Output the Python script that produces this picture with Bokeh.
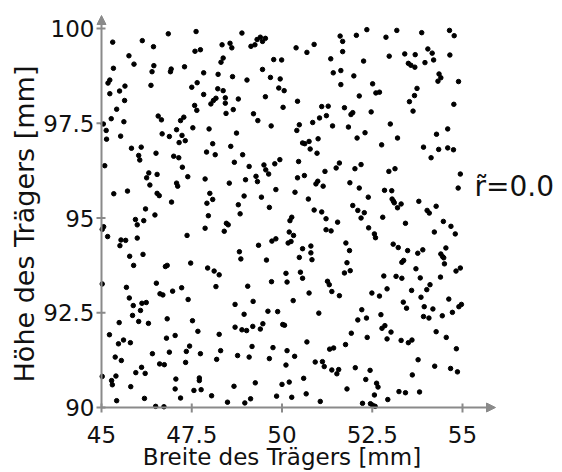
import math
from bokeh.plotting import figure
from bokeh.models import Range1d, Label, Arrow, NormalHead
from bokeh.core.properties import value
from bokeh.embed import file_html
from bokeh.resources import INLINE

# ---- axis ticks / texts ----
x_ticks = [45, 47.5, 50, 52.5, 55]
x_tick_labels = ["45", "47.5", "50", "52.5", "55"]
y_ticks = [90, 92.5, 95, 97.5, 100]
y_tick_labels = ["90", "92.5", "95", "97.5", "100"]
x_title = "Breite des Trägers [mm]"
y_title = "Höhe des Trägers [mm]"
r_text = "r\u0303=0.0"

# ---- measured points (Breite [mm], Höhe [mm]) by region ----
oben_links = [(46.85,99.86),(47.62,99.92),(45.31,99.64),(46.13,99.68),(46.44,99.52),(47.59,99.40),(47.74,99.44),(45.76,99.28),(45.90,99.06),(46.45,99.02),(46.40,98.86),(46.93,98.93),(46.91,98.86),(47.30,98.99),(45.33,98.95),(45.23,98.64),(45.18,98.56),(45.65,98.48),(46.37,98.50),(45.50,98.35),(45.23,98.28),(45.64,98.10),(45.42,97.87),(47.65,98.57),(47.50,98.45),(47.58,97.97),(47.64,97.84),(45.27,97.62),(45.62,97.54),(46.57,97.69),(46.66,97.59),(47.28,97.66),(47.19,97.57),(45.05,97.48),(45.13,97.31),(45.14,97.08),(45.53,97.16),(46.68,97.22),(46.88,97.15),(47.08,97.33),(47.23,97.18),(47.53,97.38),(47.15,96.99),(47.32,97.04),(45.83,96.84),(46.10,96.87)]
oben_mitte = [(48.89,99.88),(48.34,99.57),(48.56,99.61),(48.61,99.49),(49.14,99.53),(49.25,99.57),(49.31,99.71),(49.40,99.77),(49.46,99.66),(49.54,99.74),(50.39,99.49),(50.69,99.37),(50.89,99.58),(51.35,99.20),(48.37,99.22),(48.31,99.11),(49.77,99.18),(49.99,99.17),(47.83,98.83),(48.23,98.79),(48.63,98.73),(49.03,98.64),(49.46,98.92),(49.68,98.71),(49.95,98.67),(51.42,98.83),(47.83,98.26),(48.22,98.41),(48.37,98.36),(48.03,98.01),(48.10,98.10),(48.17,98.16),(48.43,98.17),(48.43,98.03),(48.79,98.14),(49.91,98.43),(50.06,98.36),(49.54,98.20),(50.43,98.08),(50.03,97.92),(48.45,97.76),(48.65,97.86),(49.21,97.75),(49.33,97.57),(49.70,97.43),(51.10,97.94),(51.28,97.95),(51.04,97.64),(51.23,97.70),(50.85,97.52),(51.40,97.43),(50.48,97.46),(50.41,97.31),(47.98,97.35),(48.74,97.24),(48.08,96.96),(48.58,96.89),(50.57,96.98),(50.63,96.96),(50.75,97.02),(51.00,97.09),(50.78,96.82)]
oben_rechts = [(52.35,99.97),(51.61,99.80),(51.68,99.66),(52.06,99.82),(52.88,99.77),(53.18,99.95),(53.87,99.89),(54.64,99.95),(54.77,99.81),(51.68,99.39),(52.26,99.14),(52.97,99.27),(53.40,99.33),(53.69,99.31),(54.04,99.46),(54.16,99.35),(54.20,99.17),(53.96,99.10),(54.65,99.30),(53.50,99.08),(53.57,99.03),(53.68,98.98),(51.63,98.89),(51.99,98.75),(51.63,98.52),(52.51,98.54),(52.60,98.30),(52.70,98.32),(52.14,98.22),(54.35,98.80),(54.40,98.70),(54.32,98.61),(54.89,98.60),(53.74,98.42),(53.67,98.23),(53.53,98.07),(53.63,97.82),(54.76,98.00),(51.73,97.91),(51.91,97.73),(51.96,97.78),(52.47,97.80),(51.84,97.40),(53.00,97.48),(52.30,97.25),(52.08,97.11),(53.20,97.11),(52.76,96.93),(54.28,97.21),(54.59,97.35),(53.92,96.87),(54.34,96.81),(54.59,96.85),(54.75,96.80)]
mitte_links = [(46.03,96.65),(46.06,96.53),(46.51,96.71),(47.00,96.63),(47.14,96.59),(45.09,96.38),(47.24,96.34),(46.31,96.19),(46.25,96.06),(46.54,96.15),(47.39,96.09),(46.34,95.87),(47.08,95.92),(47.11,95.84),(45.34,95.64),(45.72,95.71),(46.54,95.65),(46.60,95.59),(46.94,95.42),(46.22,95.24),(46.48,95.08),(45.94,94.96),(46.17,94.93),(45.99,94.82),(45.06,94.77),(45.02,94.70),(45.17,94.51),(45.54,94.42),(45.67,94.41),(45.99,94.47),(45.51,94.27),(47.37,94.54),(45.78,93.99),(46.15,94.04),(45.89,93.75),(46.77,93.72),(46.82,93.75),(47.47,93.81)]
mitte = [(47.91,96.74),(48.15,96.67),(48.91,96.67),(48.68,96.47),(49.09,96.36),(49.50,96.40),(49.55,96.27),(49.63,96.16),(49.80,96.43),(49.94,96.54),(50.46,96.49),(50.97,96.71),(51.19,96.23),(47.87,96.03),(48.54,95.92),(48.99,96.01),(49.28,96.10),(49.32,95.96),(50.43,96.06),(50.62,96.12),(50.94,95.90),(50.99,95.97),(51.14,95.84),(49.83,95.75),(50.36,95.68),(48.00,95.65),(48.08,95.49),(47.92,95.39),(48.95,95.58),(49.43,95.55),(48.79,95.35),(49.65,95.28),(50.73,95.50),(48.84,95.11),(47.96,95.06),(50.89,95.21),(51.10,95.16),(51.22,94.98),(50.27,95.02),(50.22,94.93),(48.46,94.86),(48.51,94.82),(47.87,94.73),(48.40,94.65),(51.22,94.69),(51.36,94.66),(50.20,94.63),(50.32,94.54),(49.83,94.45),(49.72,94.39),(50.17,94.34),(50.25,94.38),(49.35,94.28),(50.57,94.19),(50.80,94.26),(50.80,94.08),(48.82,94.11),(48.86,93.92),(49.57,93.89),(50.48,93.96),(50.83,93.90),(47.94,93.68),(48.12,93.60),(48.26,93.50),(50.11,93.54),(50.51,93.57),(50.57,93.41)]
mitte_rechts = [(54.13,96.59),(51.59,96.45),(51.50,96.32),(52.02,96.30),(52.19,96.41),(52.96,96.23),(53.13,96.30),(54.94,96.16),(54.88,95.79),(51.88,95.93),(52.14,95.79),(52.84,95.73),(53.04,95.72),(52.39,95.55),(53.05,95.50),(53.09,95.44),(53.11,95.40),(53.30,95.37),(53.20,95.27),(53.79,95.44),(54.02,95.20),(54.08,95.13),(54.27,95.31),(51.96,95.33),(52.10,95.20),(52.28,95.14),(52.19,95.00),(52.79,95.02),(51.54,94.89),(53.42,94.86),(54.47,94.91),(54.68,94.78),(54.22,94.63),(54.80,94.58),(52.40,94.74),(52.56,94.58),(52.59,94.48),(51.77,94.34),(51.87,94.14),(53.08,94.31),(53.22,94.22),(53.48,94.14),(53.76,94.07),(53.90,94.16),(54.54,94.21),(54.40,94.05),(54.45,93.98),(54.48,93.95),(53.37,93.88),(53.32,93.83),(51.80,93.82),(54.50,93.79),(51.73,93.55),(51.89,93.61),(53.71,93.66),(54.82,93.60),(54.94,93.68),(52.82,93.47),(53.16,93.46),(53.32,93.41),(53.83,93.42),(54.39,93.44)]
unten_links = [(45.02,93.26),(45.69,93.17),(45.77,92.89),(45.88,92.69),(45.86,92.43),(46.08,92.56),(46.12,92.75),(46.24,92.77),(46.03,92.27),(46.30,92.22),(46.52,93.28),(46.62,93.00),(46.70,92.97),(46.97,93.07),(47.22,93.16),(47.40,92.85),(46.82,92.34),(47.52,92.29),(47.67,92.01),(45.49,92.24),(45.22,91.92),(45.47,91.68),(45.61,91.78),(45.80,91.71),(46.80,91.83),(47.04,91.90),(47.44,91.62),(47.74,91.42),(45.38,91.33),(45.55,91.24),(46.41,91.42),(46.88,91.46),(47.35,91.48),(47.33,91.19),(46.61,91.15),(46.74,91.13),(46.11,91.06),(46.21,90.90),(45.95,90.92),(45.02,90.82),(45.28,90.71),(45.30,90.60),(45.40,90.83),(45.81,90.55),(47.06,90.75),(47.04,90.49),(47.71,90.78),(47.71,90.71),(47.56,90.45),(47.76,90.47),(47.19,90.25),(45.42,90.18),(46.19,90.24),(46.50,90.03),(46.73,90.02)]
unten_mitte = [(48.17,93.19),(49.05,93.20),(49.71,93.32),(50.14,93.31),(51.26,93.33),(51.31,93.24),(51.38,93.06),(50.75,93.02),(48.70,92.72),(49.20,92.80),(50.31,92.82),(48.95,92.46),(49.61,92.54),(49.88,92.53),(51.02,92.49),(48.70,92.12),(48.89,92.05),(49.02,92.03),(49.19,92.14),(49.40,92.07),(49.47,92.21),(50.02,92.19),(50.07,92.17),(48.26,91.93),(50.69,91.73),(49.17,91.61),(49.75,91.58),(50.14,91.50),(51.32,91.54),(51.43,91.57),(48.30,91.50),(48.19,91.27),(48.77,91.37),(49.09,91.33),(49.65,91.29),(50.35,91.35),(50.11,91.12),(50.92,91.20),(51.12,91.21),(51.17,91.08),(51.38,90.99),(50.60,90.77),(49.26,90.65),(48.67,90.56),(50.00,90.61),(50.20,90.67),(48.05,90.31),(49.85,90.30),(50.27,90.27),(50.67,90.36),(48.49,90.14),(48.97,90.12),(49.13,90.23),(51.06,90.16)]
unten_rechts = [(51.59,92.95),(52.49,93.02),(52.70,92.94),(52.91,93.13),(53.59,93.09),(53.85,92.91),(54.01,93.11),(54.10,93.24),(54.62,92.86),(53.36,92.78),(53.45,92.62),(53.94,92.66),(54.18,92.60),(54.90,92.66),(54.97,92.72),(52.21,92.58),(52.10,92.31),(52.34,92.36),(52.74,92.45),(53.92,92.40),(54.07,92.36),(54.44,92.42),(54.72,92.51),(52.85,92.16),(52.77,92.09),(53.02,91.99),(51.92,91.96),(52.36,91.85),(52.91,91.81),(53.30,91.77),(53.50,91.71),(53.60,91.78),(54.27,92.00),(54.55,91.85),(51.76,91.66),(54.83,91.55),(53.77,91.26),(52.03,91.05),(51.57,91.00),(51.52,90.89),(52.44,90.98),(52.32,90.74),(54.23,91.09),(54.67,91.03),(54.86,90.94),(53.61,90.86),(51.80,90.49),(52.62,90.64),(52.66,90.54),(53.24,90.42),(53.42,90.39),(53.81,90.41),(52.56,90.33),(52.93,90.21),(52.23,90.11),(52.45,90.10),(52.51,90.06),(52.58,90.03)]

punkte = (oben_links + oben_mitte + oben_rechts + mitte_links + mitte +
          mitte_rechts + unten_links + unten_mitte + unten_rechts)
breite = [pt[0] for pt in punkte]
hoehe = [pt[1] for pt in punkte]

# ---- layout (pixels) ----
W, H = 560, 470
LEFT_PX, TOP_PX, BOTTOM_PX = 101, 28, 407     # where x=45, y=100, y=90 sit
PX_X = 36.1                                    # px per mm along x
PX_Y = (BOTTOM_PX - TOP_PX) / 10.0             # px per mm along y
X0, Y0, Y1 = x_ticks[0], y_ticks[0], y_ticks[-1]

GRAY = "#8a8a8a"
TXT = "#111111"
FONT = "DejaVu Sans"

p = figure(width=W, height=H, output_backend="svg", toolbar_location=None,
           x_range=Range1d(X0 - LEFT_PX / PX_X, X0 + (W - LEFT_PX) / PX_X),
           y_range=Range1d(Y0 - (H - BOTTOM_PX) / PX_Y, Y1 + TOP_PX / PX_Y),
           x_axis_type=None, y_axis_type=None,
           min_border=0)
p.outline_line_color = None
p.background_fill_color = "white"
p.border_fill_color = "white"

# axis lines with arrow heads
p.add_layout(Arrow(end=NormalHead(size=9, fill_color=GRAY, line_color=GRAY),
                   x_start=X0, y_start=Y0, x_end=X0, y_end=Y1 + 13 / PX_Y,
                   line_color=GRAY, line_width=2))
p.add_layout(Arrow(end=NormalHead(size=9, fill_color=GRAY, line_color=GRAY),
                   x_start=X0, y_start=Y0, x_end=x_ticks[-1] + 33 / PX_X, y_end=Y0,
                   line_color=GRAY, line_width=2))

# tick marks
TICK_OUT, TICK_IN = 5, 4
p.segment(x0=x_ticks, x1=x_ticks,
          y0=[Y0 - TICK_OUT / PX_Y] * len(x_ticks),
          y1=[Y0 + TICK_IN / PX_Y] * len(x_ticks),
          line_color=GRAY, line_width=2)
p.segment(x0=[X0 - TICK_OUT / PX_X] * len(y_ticks),
          x1=[X0 + TICK_IN / PX_X] * len(y_ticks),
          y0=y_ticks, y1=y_ticks, line_color=GRAY, line_width=2)

# tick labels
p.text(x=x_ticks, y=[Y0] * len(x_ticks), text=x_tick_labels, y_offset=27,
       text_align="center", text_baseline="middle",
       text_font=value(FONT), text_font_size=value("23px"), text_color=TXT)
p.text(x=[X0] * len(y_ticks), y=y_ticks, text=y_tick_labels, x_offset=-7,
       text_align="right", text_baseline="middle",
       text_font=value(FONT), text_font_size=value("23px"), text_color=TXT)

# data points
p.scatter(x=breite, y=hoehe, marker="circle", size=4.5, color="black")

# titles and annotation
p.add_layout(Label(x=(X0 + x_ticks[-1]) / 2, y=Y0, y_offset=-49, text=x_title,
                   text_align="center", text_baseline="middle",
                   text_font=FONT, text_font_size="23px", text_color=TXT))
p.add_layout(Label(x=X0, x_offset=-77, y=(Y0 + Y1) / 2, y_offset=-6,
                   text=y_title, angle=math.pi / 2,
                   text_align="center", text_baseline="middle",
                   text_font=FONT, text_font_size="27px", text_color=TXT))
p.add_layout(Label(x=x_ticks[-1], x_offset=12, y=(Y0 + Y1) / 2, y_offset=32,
                   text=r_text, text_align="left", text_baseline="middle",
                   text_font=FONT, text_font_size="28px", text_color=TXT))

open("out.html", "w").write(file_html(p, INLINE))
